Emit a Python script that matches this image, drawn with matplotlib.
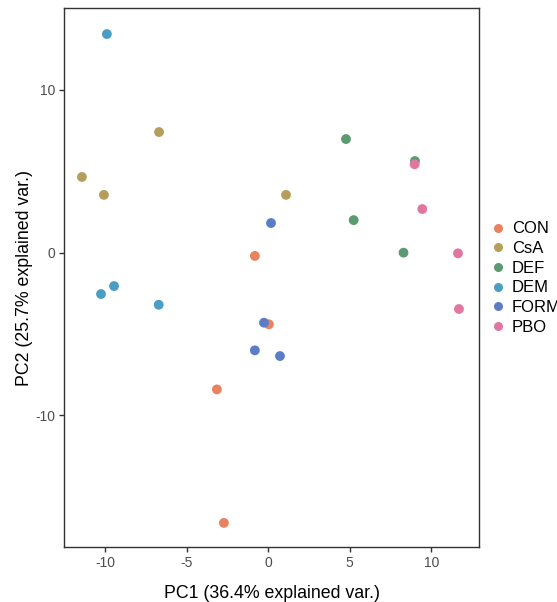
import matplotlib
matplotlib.use("Agg")
import matplotlib.pyplot as plt
from matplotlib.lines import Line2D

plt.rcParams['font.family'] = ['Liberation Sans', 'DejaVu Sans']

groups = ["CON", "CsA", "DEF", "DEM", "FORM", "PBO"]
colors = ["#E8825F", "#B59E5C", "#5C9A70", "#4A9EC3", "#5B7DC6", "#E077A0"]

pc1 = {
    "CON": [-0.82, 0.04, -3.15, -2.72],
    "CsA": [-6.7, -11.43, -10.08, 1.09],
    "DEF": [4.77, 9.0, 5.24, 8.3],
    "DEM": [-9.9, -10.26, -9.46, -6.72],
    "FORM": [0.17, -0.26, -0.82, 0.72],
    "PBO": [8.98, 9.45, 11.64, 11.7],
}
pc2 = {
    "CON": [-0.2, -4.4, -8.4, -16.6],
    "CsA": [7.41, 4.65, 3.55, 3.55],
    "DEF": [6.98, 5.63, 2.0, 0.0],
    "DEM": [13.43, -2.54, -2.05, -3.2],
    "FORM": [1.82, -4.3, -6.0, -6.35],
    "PBO": [5.43, 2.68, -0.04, -3.46],
}

fig = plt.figure(figsize=(5.57, 6.02), dpi=100)
ax = fig.add_axes([64 / 557, 1 - 547 / 602, (479 - 64) / 557, (547 - 8) / 602])

for g, c in zip(groups, colors):
    ax.scatter(pc1[g], pc2[g], s=50, color=c, edgecolors='none', zorder=3)

ax.set_xlim(-12.53, 12.93)
ax.set_ylim(-18.08, 15.03)
ax.set_xticks([-10, -5, 0, 5, 10])
ax.set_yticks([-10, 0, 10])
ax.set_xticklabels(["-10", "-5", "0", "5", "10"])
ax.set_yticklabels(["-10", "0", "10"])
for s in ax.spines.values():
    s.set_color('#333333')
    s.set_linewidth(1.0)
ax.tick_params(colors='#333333', labelcolor='#4D4D4D', labelsize=10, length=3.5, width=1, pad=3)

ax.set_xlabel("PC1 (36.4% explained var.)", fontsize=12.8, labelpad=10.5)
ax.set_ylabel("PC2 (25.7% explained var.)", fontsize=12.8, labelpad=1.5)

handles = [Line2D([], [], marker='o', linestyle='none', markersize=6.5,
                  markerfacecolor=c, markeredgecolor='none') for c in colors]
fig.legend(handles, groups, loc='center left', bbox_to_anchor=(490 / 557, 1 - 278 / 602),
           frameon=False, fontsize=12, handletextpad=0.3, labelspacing=0.28,
           handlelength=1.0, borderpad=0, borderaxespad=0)

fig.savefig("out.png", dpi=100)
